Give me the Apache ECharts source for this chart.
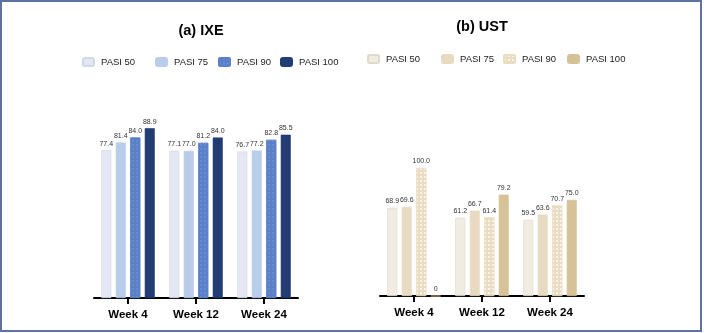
<!DOCTYPE html>
<html>
<head>
<meta charset="utf-8">
<script src="https://cdn.jsdelivr.net/npm/echarts@6/dist/echarts.min.js"></script>
<style>
  html, body { margin: 0; padding: 0; background: #fff; }
  #main { width: 704px; height: 333px; }
</style>
</head>
<body>
<div id="main"></div>
<script>
var weeks = ['Week 4', 'Week 12', 'Week 24'];
var levels = ['PASI 50', 'PASI 75', 'PASI 90', 'PASI 100'];

// (a) IXE, % responders
var ixe50 = [77.4, 77.1, 76.7];
var ixe75 = [81.4, 77.0, 77.2];
var ixe90 = [84.0, 81.2, 82.8];
var ixe100 = [88.9, 84.0, 85.5];

// (b) UST
var ust50 = [68.9, 61.2, 59.5];
var ust75 = [69.6, 66.7, 63.6];
var ust90 = [100.0, 61.4, 70.7];
var ust100 = [0, 79.2, 75.0];

// no narrow font available, so sizes are a bit smaller to keep widths
var FONT = '"Liberation Sans", Arial, sans-serif';

var ixeColors = ['#e4e8f4', '#b9cdea', '#5a80c8', '#223d74'];
var ustColors = ['#f1ece2', '#e8dbc2', '#e9dcc0', '#d7c297'];
var ixeBorders = ['#d3d7e2', '#b9cdea', '#5a80c8', '#223d74'];
var ustBorders = ['#e0dacd', '#e8dbc2', '#e9dcc0', '#d7c297'];

var chart = echarts.init(document.getElementById('main'), null, { renderer: 'canvas' });

function makeSeries(prefix, data, idx, colors, borders, decal) {
  var s = {
    name: prefix + '|' + levels[idx],
    type: 'bar',
    xAxisIndex: prefix == 'a' ? 0 : 1,
    yAxisIndex: prefix == 'a' ? 0 : 1,
    data: data,
    barWidth: 10,
    barGap: '45%',
    itemStyle: { color: colors[idx], borderColor: borders[idx], borderWidth: 0.6 },
    label: {
      show: true,
      position: 'top',
      distance: 3,
      fontSize: 7,
      fontFamily: FONT,
      color: '#333',
      formatter: function (p) { return p.value == 0 ? '0' : p.value.toFixed(1); }
    }
  };
  if (decal) s.itemStyle.decal = decal;
  return s;
}

var ixeDecal = { symbol: 'rect', symbolSize: 0.6, dashArrayX: [2, 2], dashArrayY: [2, 2], color: 'rgba(200,215,245,0.45)' };
var ustDecal = { symbol: 'rect', symbolSize: 1, dashArrayX: [2, 2], dashArrayY: [2, 2], color: 'rgba(255,255,255,0.7)' };

var series = [
  makeSeries('a', ixe50, 0, ixeColors, ixeBorders),
  makeSeries('a', ixe75, 1, ixeColors, ixeBorders),
  makeSeries('a', ixe90, 2, ixeColors, ixeBorders, ixeDecal),
  makeSeries('a', ixe100, 3, ixeColors, ixeBorders),
  makeSeries('b', ust50, 0, ustColors, ustBorders),
  makeSeries('b', ust75, 1, ustColors, ustBorders),
  makeSeries('b', ust90, 2, ustColors, ustBorders, ustDecal),
  makeSeries('b', ust100, 3, ustColors, ustBorders)
];

var ixeLegendX = [82, 155, 218, 280];
var ustLegendX = [367, 441, 503, 567];
var legends = [];
for (var i = 0; i < levels.length; i++) {
  legends.push({ data: ['a|' + levels[i]], left: ixeLegendX[i], top: 57 });
  legends.push({ data: ['b|' + levels[i]], left: ustLegendX[i], top: 54 });
}
legends = legends.map(function (l) {
  l.itemWidth = 11;
  l.itemHeight = 8;
  l.itemGap = 6;
  l.padding = 0;
  l.selectedMode = false;
  l.textStyle = { fontSize: 9.5, fontFamily: FONT, color: '#222', padding: [0, 0, 0, 2] };
  l.formatter = function (n) { return n.split('|')[1]; };
  return l;
});

function xAxis(gridIndex) {
  return {
    type: 'category',
    gridIndex: gridIndex,
    data: weeks,
    axisLine: { lineStyle: { color: '#000', width: 2 } },
    axisTick: { show: true, interval: 0, alignWithLabel: true, length: 6, lineStyle: { color: '#000', width: 2 } },
    axisLabel: { color: '#000', fontSize: 11.5, fontWeight: 'bold', fontFamily: FONT, margin: 11 }
  };
}

function yAxis(gridIndex) {
  return {
    type: 'value',
    gridIndex: gridIndex,
    min: 0,
    max: 100,
    show: false
  };
}

var option = {
  animation: false,
  backgroundColor: '#fff',
  title: [
    { text: '(a) IXE', left: 196, top: 18, textAlign: 'center',
      textStyle: { fontSize: 14.5, fontWeight: 'bold', fontFamily: FONT, color: '#000' } },
    { text: '(b) UST', left: 477, top: 14, textAlign: 'center',
      textStyle: { fontSize: 14.5, fontWeight: 'bold', fontFamily: FONT, color: '#000' } }
  ],
  legend: legends,
  grid: [
    { left: 94, width: 204, top: 107, bottom: 35 },
    { left: 380, width: 204, top: 168, bottom: 37 }
  ],
  xAxis: [xAxis(0), xAxis(1)],
  yAxis: [yAxis(0), yAxis(1)],
  series: series,
  graphic: [{
    type: 'rect',
    shape: { x: 1, y: 1, width: 700, height: 330 },
    style: { fill: null, stroke: '#5f71a3', lineWidth: 2 },
    silent: true,
    z: 100
  }]
};

chart.setOption(option);
</script>
</body>
</html>
